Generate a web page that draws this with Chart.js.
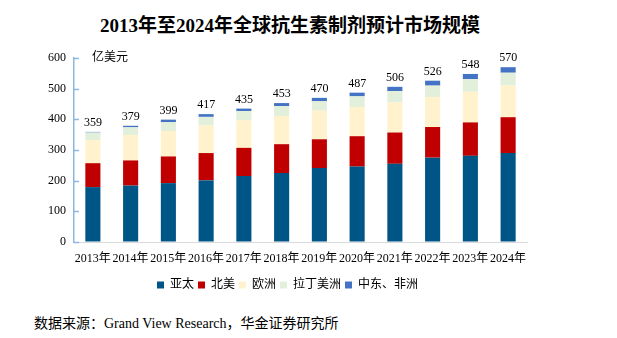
<!DOCTYPE html>
<html>
<head>
<meta charset="utf-8">
<script src="https://cdn.jsdelivr.net/npm/chart.js@4"></script>
<style>
  body { margin: 0; background: #fff; }
  #wrap { position: relative; width: 617px; height: 338px; }
  #title { position: absolute; left: 0; width: 580px; top: 10px; text-align: center;
    font: bold 19px "Liberation Serif", "Noto Sans CJK SC", serif; color: #000; }
  #source { position: absolute; left: 34px; top: 312px;
    font: 14px "Liberation Serif", "Noto Sans CJK SC", serif; color: #000; }
  canvas { position: absolute; left: 0; top: 0; }
</style>
</head>
<body>
<div id="wrap">
  <div id="title">2013年至2024年全球抗生素制剂预计市场规模</div>
  <canvas id="myChart" width="617" height="310"></canvas>
  <div id="source">数据来源：Grand View Research，华金证券研究所</div>
</div>
<script>
const years = ['2013年', '2014年', '2015年', '2016年', '2017年', '2018年', '2019年', '2020年', '2021年', '2022年', '2023年', '2024年'];
const asiaPacific = [179, 184, 192, 201, 215, 225, 241, 246, 255, 275, 281, 290];
const northAmerica = [78, 82, 87, 89, 92, 94, 94, 99, 102, 100, 109, 117];
const europe = [75, 83, 83, 90, 90, 92, 93, 95, 98, 98, 100, 103];
const latinAmerica = [25, 25, 29, 28, 30, 32, 31, 35, 37, 37, 41, 42];
const middleEastAfrica = [2, 5, 8, 9, 8, 10, 11, 12, 14, 16, 17, 18];
const totals = [359, 379, 399, 417, 435, 453, 470, 487, 506, 526, 548, 570];

const serif = '"Liberation Serif", "Noto Sans CJK SC", serif';
const axisBlue = '#8DB6E2';

// totals above each stack, inner y ticks, unit label
const extras = {
  id: 'extras',
  afterDatasetsDraw(chart) {
    const ctx = chart.ctx;
    const area = chart.chartArea;
    const y = chart.scales.y;
    ctx.save();
    // small tick marks on the inside of the y axis
    ctx.strokeStyle = axisBlue;
    ctx.lineWidth = 1.5;
    y.ticks.forEach(t => {
      const py = Math.round(y.getPixelForValue(t.value)) + 0.5;
      ctx.beginPath();
      ctx.moveTo(area.left, py);
      ctx.lineTo(area.left + 5, py);
      ctx.stroke();
    });
    ctx.fillStyle = '#000';
    ctx.font = '12px ' + serif;
    ctx.textAlign = 'center';
    ctx.textBaseline = 'bottom';
    const meta = chart.getDatasetMeta(chart.data.datasets.length - 1);
    meta.data.forEach((bar, i) => {
      ctx.fillText(totals[i], bar.x, bar.y - 3);
    });
    ctx.textAlign = 'left';
    ctx.textBaseline = 'middle';
    ctx.fillText('亿美元', area.left + 18, area.top);
    ctx.restore();
  }
};

const ctx = document.getElementById('myChart').getContext('2d');
new Chart(ctx, {
  type: 'bar',
  data: {
    labels: years,
    datasets: [
      { label: '亚太', data: asiaPacific, backgroundColor: '#005587' },
      { label: '北美', data: northAmerica, backgroundColor: '#C00000' },
      { label: '欧洲', data: europe, backgroundColor: '#FFF2CC' },
      { label: '拉丁美洲', data: latinAmerica, backgroundColor: '#E2EFDA' },
      { label: '中东、非洲', data: middleEastAfrica, backgroundColor: '#4472C4' }
    ]
  },
  options: {
    responsive: false,
    animation: false,
    layout: { padding: { top: 58, right: 90, left: 48, bottom: 9 } },
    datasets: { bar: { barPercentage: 0.8, categoryPercentage: 0.5 } },
    plugins: {
      title: { display: false },
      tooltip: { enabled: false },
      legend: {
        position: 'bottom',
        labels: {
          boxWidth: 7, boxHeight: 7, padding: 4,
          color: '#000',
          font: { family: serif, size: 12 }
        }
      }
    },
    scales: {
      x: {
        stacked: true,
        afterFit: s => { s.height = 33; },
        grid: { display: false, drawTicks: false },
        border: { color: '#D9D9D9' },
        ticks: { color: '#000', font: { family: serif, size: 12 }, maxRotation: 0, autoSkip: false, padding: 10 }
      },
      y: {
        stacked: true,
        min: 0, max: 600,
        afterFit: s => { s.width = 26; },
        grid: { drawOnChartArea: false, drawTicks: false },
        border: { color: axisBlue, width: 1.5 },
        ticks: { stepSize: 100, color: '#000', font: { family: serif, size: 12 }, padding: 8 }
      }
    }
  },
  plugins: [extras]
});
</script>
</body>
</html>
